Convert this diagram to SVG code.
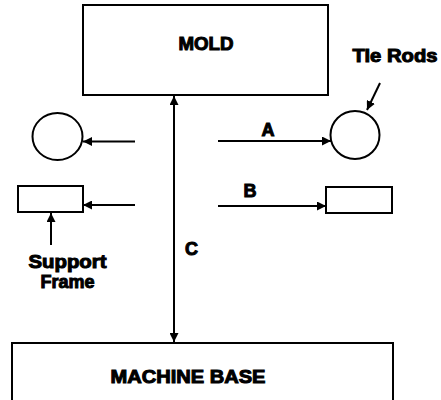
<svg xmlns="http://www.w3.org/2000/svg" width="441" height="400" viewBox="0 0 441 400">
<defs>
<style>
.ln{stroke:#000;stroke-width:2;fill:none}
.sh{stroke:#000;stroke-width:2;fill:#fff}
.t{font-family:"Liberation Sans",Arial,sans-serif;font-weight:bold;font-size:18px;fill:#000;stroke:#000;stroke-width:1;text-anchor:middle}
</style>
<marker id="ah" viewBox="0 0 10 10" refX="10" refY="5" markerWidth="4.5" markerHeight="4.5" orient="auto-start-reverse" markerUnits="strokeWidth">
<path d="M0,0 L10,5 L0,10 z" fill="#000"/>
</marker>
</defs>
<rect width="441" height="400" fill="#fff"/>
<g id="mold"><rect class="sh" x="83" y="5" width="245" height="90"/><text class="t" x="206" y="50" textLength="55" lengthAdjust="spacingAndGlyphs">MOLD</text></g>
<g id="base"><rect class="sh" x="12" y="343" width="381" height="70"/><text class="t" x="188" y="383" textLength="155" lengthAdjust="spacingAndGlyphs">MACHINE BASE</text></g>
<g id="tierod-left"><ellipse class="sh" cx="57.5" cy="136.5" rx="25" ry="23.5"/></g>
<g id="tierod-right"><ellipse class="sh" cx="355" cy="135" rx="24.5" ry="24"/></g>
<g id="frame-left"><rect class="sh" x="18" y="186" width="65" height="26"/></g>
<g id="frame-right"><rect class="sh" x="326" y="187" width="66" height="26"/></g>
<g id="labels">
<text class="t" x="395" y="62" textLength="85" lengthAdjust="spacingAndGlyphs">Tie Rods</text>
<text class="t" x="268" y="136">A</text>
<text class="t" x="250" y="197">B</text>
<text class="t" x="191.5" y="255">C</text>
<text class="t" x="67.5" y="268" textLength="78" lengthAdjust="spacingAndGlyphs">Support</text>
<text class="t" x="67.5" y="288">Frame</text>
</g>
<g id="connectors">
<line class="ln" x1="174" y1="96" x2="174" y2="342" marker-start="url(#ah)" marker-end="url(#ah)"/>
<line class="ln" x1="135" y1="141.5" x2="83" y2="141.5" marker-end="url(#ah)"/>
<line class="ln" x1="135" y1="205" x2="83" y2="205" marker-end="url(#ah)"/>
<line class="ln" x1="218" y1="141" x2="331" y2="141" marker-end="url(#ah)"/>
<line class="ln" x1="218" y1="206" x2="326" y2="206" marker-end="url(#ah)"/>
<line class="ln" x1="51" y1="245" x2="51" y2="213" marker-end="url(#ah)"/>
<line class="ln" x1="380" y1="83" x2="367" y2="110" marker-end="url(#ah)"/>
</g>
</svg>
